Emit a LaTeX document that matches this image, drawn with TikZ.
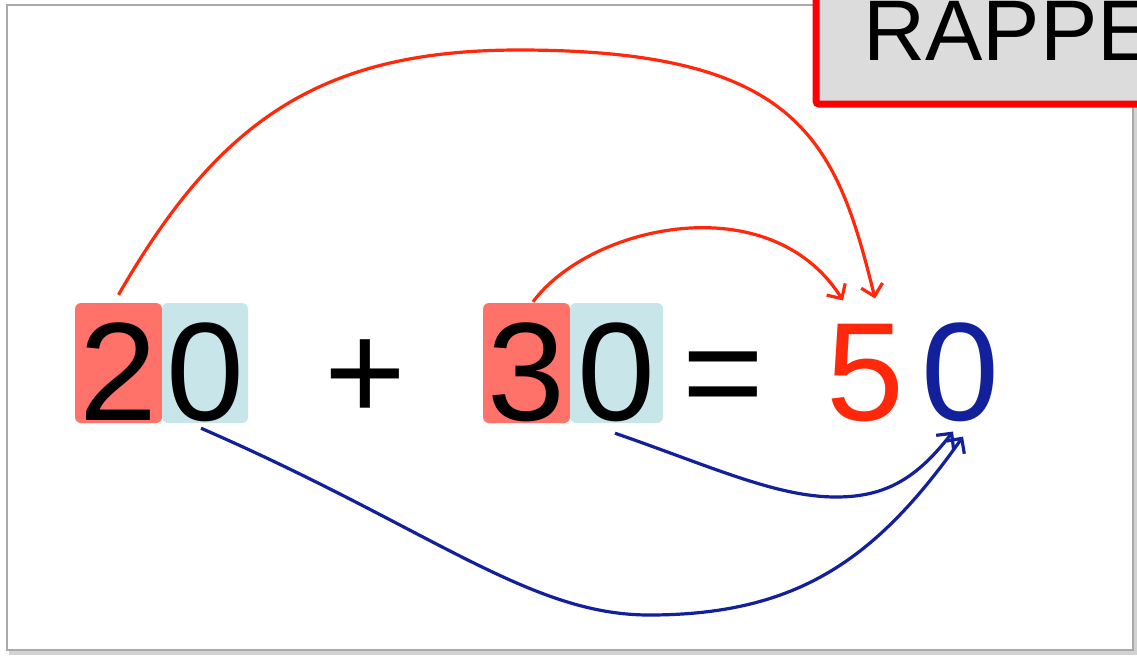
\documentclass[tikz,border=0pt]{standalone}
\usepackage{fontspec}
\setmainfont{Liberation Sans}
\usetikzlibrary{arrows.meta}
\definecolor{boxred}{RGB}{255,114,106}
\definecolor{boxblue}{RGB}{200,230,234}
\definecolor{arrred}{RGB}{255,40,10}
\definecolor{arrblue}{RGB}{18,32,155}
\definecolor{rappebg}{RGB}{220,220,220}
\definecolor{framegray}{RGB}{170,170,170}
\begin{document}
\begin{tikzpicture}[x=1pt,y=-1pt,
  digit/.style={font=\fontsize{140}{140}\selectfont, inner sep=0pt, anchor=base},
  digitbox/.style={digit, rounded corners=6pt, text height=117pt, text depth=3pt},
  tens/.style={digitbox, fill=boxred},
  units/.style={digitbox, fill=boxblue},
  redarrow/.style={draw=arrred, line width=3.2pt, -{Straight Barb[length=11pt,width=22pt]}},
  bluearrow/.style={draw=arrblue, line width=3.2pt, -{Straight Barb[length=11pt,width=22pt]}}]
\useasboundingbox (0,0) rectangle (1137,657);
\clip (0,0) rectangle (1137,657);
% frame with shadow
\fill[gray!35] (9,8) rectangle (1137,655);
\draw[framegray, line width=1.5pt, fill=white] (7,5) rectangle (1133,650);
% title box
\draw[draw=red, line width=7pt, fill=rappebg, rounded corners=3pt] (816,-40) rectangle (1200,104);
\node[anchor=base west, font=\fontsize{86}{86}\selectfont, inner sep=0pt] (rappe) at (863,60) {RAPPE};
% digits
\node[tens, minimum width=87pt] (r20) at (118.5,420) {2};
\node[units, minimum width=86pt] (b20) at (205,420) {0};
\node[digit] (plus) at (365,420) {+};
\node[tens, minimum width=87pt] (r30) at (526.5,420) {3};
\node[units, minimum width=93pt] (b30) at (616.5,420) {0};
\node[digit] (eq) at (723,420) {=};
\node[digit, text=arrred] (five) at (865,420) {5};
\node[digit, text=arrblue] (zero) at (960,420) {0};
% arrows
\draw[redarrow] ([yshift=8pt]r20.north) .. controls (218,122) and (319,50) .. (519,50)
  .. controls (799,50) and (836,140) .. ([xshift=10pt,yshift=25pt]five.north);
\draw[redarrow] ([xshift=6.5pt,yshift=1pt]r30.north) .. controls (590,225) and (770,185) .. ([xshift=-22pt,yshift=23pt]five.north);
\draw[bluearrow] ([xshift=-4pt,yshift=-5pt]b20.south) .. controls (430,528) and (529,615) .. (649,615)
  .. controls (799,615) and (877,558) .. ([xshift=3pt,yshift=-15pt]zero.south);
\draw[bluearrow] ([xshift=-1.5pt,yshift=-10pt]b30.south) .. controls (710,466) and (776,497) .. (836,497)
  .. controls (886,497) and (917,478) .. ([xshift=-7pt,yshift=-10pt]zero.south);
\end{tikzpicture}
\end{document}
